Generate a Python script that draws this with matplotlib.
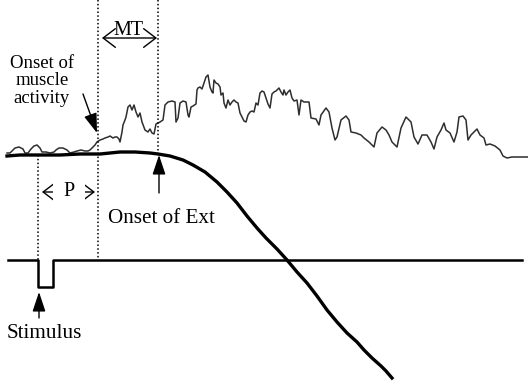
import matplotlib
matplotlib.use("Agg")
import matplotlib.pyplot as plt

plt.rcParams['font.family'] = ['Liberation Serif', 'DejaVu Serif']

# EMG trace (time, amplitude; screen-down positive)
emg_t = [7, 10, 12, 15, 19, 23, 25, 28, 31, 34, 37, 40, 42, 46, 50, 54, 56, 59, 63, 67,
         70, 74, 77, 81, 85, 88, 90, 93, 95, 97, 100, 103, 105, 108, 110, 113, 115, 117,
         119, 120, 122, 123, 125, 126, 128, 130, 132, 134, 136, 138, 140, 142, 145, 148,
         150, 152, 154, 156, 158, 160, 163, 165, 168, 172, 175, 176, 178, 180, 183, 186,
         188, 189, 191, 193, 196, 197, 198, 200, 202, 204, 206, 208, 210, 212, 213, 214,
         216, 218, 220, 221, 223, 224, 226, 228, 230, 232, 234, 236, 238, 240, 242, 244,
         246, 248, 250, 252, 254, 256, 258, 260, 262, 264, 266, 268, 270, 272, 274, 276,
         279, 281, 283, 284, 286, 288, 290, 292, 294, 297, 299, 301, 304, 309, 311, 316,
         319, 321, 326, 329, 332, 335, 337, 341, 346, 349, 351, 356, 361, 364, 369, 374,
         377, 382, 386, 389, 392, 397, 401, 406, 411, 414, 418, 422, 427, 431, 434, 437,
         441, 444, 446, 450, 454, 457, 459, 463, 466, 468, 471, 477, 480, 484, 486, 490,
         495, 500, 503, 507, 512, 520, 528]
emg_y = [153, 153, 151, 148, 147, 149, 153, 153, 149, 146, 145, 148, 152, 152, 153, 152,
         150, 148, 148, 150, 153, 152, 151, 150, 151, 151, 150, 147, 145, 142, 140, 139,
         138, 137, 136, 138, 137, 137, 139, 142, 132, 125, 120, 117, 107, 105, 110, 105,
         112, 117, 113, 122, 130, 132, 129, 133, 134, 124, 123, 122, 120, 105, 102, 101,
         102, 122, 118, 103, 101, 102, 115, 117, 107, 106, 104, 90, 88, 87, 89, 83, 77, 75,
         87, 92, 93, 80, 83, 84, 87, 95, 93, 103, 108, 100, 105, 102, 100, 102, 103, 113,
         117, 121, 122, 115, 112, 111, 112, 103, 105, 93, 91, 92, 98, 104, 108, 94, 92, 91,
         88, 92, 95, 90, 95, 92, 90, 98, 101, 100, 115, 100, 102, 102, 118, 119, 125, 115,
         108, 112, 128, 140, 137, 120, 116, 120, 132, 133, 135, 138, 142, 147, 133, 127,
         130, 135, 142, 147, 128, 117, 122, 137, 144, 135, 135, 142, 149, 137, 130, 123,
         130, 133, 142, 132, 117, 116, 120, 140, 135, 129, 135, 138, 145, 144, 146, 150,
         156, 158, 157, 157, 157]

# joint angle trace
ang_t = [7, 20, 40, 60, 80, 100, 120, 135, 150, 158, 170, 183, 193, 205, 217, 227, 237,
         247, 257, 266, 277, 287, 297, 307, 317, 327, 337, 347, 357, 364, 372, 381, 386, 392]
ang_y = [156, 155, 155, 155, 154, 154, 152, 152, 153, 154, 156, 160, 165, 172, 182, 192,
         203, 216, 228, 238, 249, 260, 272, 283, 296, 310, 322, 333, 342, 350, 358, 366,
         371, 378]

# stimulus pulse
stim_t = [8, 38, 38, 53, 53, 522]
stim_y = [260, 260, 287, 287, 260, 260]

# event markers: stimulus, muscle onset, movement onset
events = [38, 98, 158]
event_top = [155, 0, 0]
event_bottom = [260, 260, 153]

fig = plt.figure(figsize=(5.28, 3.81), dpi=100)
ax = fig.add_axes([0, 0, 1, 1])
ax.set_xlim(0, 528)
ax.set_ylim(381, 0)
ax.axis('off')

ax.plot(emg_t, emg_y, color='#2e2e2e', lw=1.1)
ax.plot(ang_t, ang_y, color='black', lw=2.4)
ax.plot(stim_t, stim_y, color='black', lw=1.8)

for x, y0, y1 in zip(events, event_top, event_bottom):
    ax.plot([x, x], [y0, y1], color='black', lw=1.1, linestyle=(0, (1, 1.5)))

interval_arrow = dict(arrowstyle='<->, head_length=0.55, head_width=0.42',
                      color='black', lw=1.0, mutation_scale=16, shrinkA=0, shrinkB=0)
onset_arrow = dict(arrowstyle='-|>, head_length=0.6, head_width=0.2',
                   color='black', lw=1.0, mutation_scale=20, shrinkA=0, shrinkB=0)

# MT interval
ax.annotate('', xy=(102, 38), xytext=(157, 38), arrowprops=interval_arrow)
ax.text(128, 35, 'MT', fontsize=14.5, ha='center', va='baseline')

# P interval
ax.annotate('', xy=(42, 192), xytext=(95, 192), arrowprops=interval_arrow)
ax.text(69, 192, 'P', fontsize=14.5, ha='center', va='center', zorder=5,
        bbox=dict(boxstyle='square,pad=0.5', fc='white', ec='none'))

# labels with arrows
ax.annotate('', xy=(97, 133), xytext=(83, 94), arrowprops=onset_arrow)
ax.text(42, 103, 'Onset of\nmuscle\nactivity', fontsize=13.5, ha='center',
        va='baseline', multialignment='center', linespacing=1.05)

ax.annotate('', xy=(159, 155), xytext=(159, 193), arrowprops=onset_arrow)
ax.text(108, 223, 'Onset of Ext', fontsize=15.2, ha='left', va='baseline')

ax.annotate('', xy=(39, 292), xytext=(39, 318), arrowprops=onset_arrow)
ax.text(7, 338, 'Stimulus', fontsize=15.2, ha='left', va='baseline')

fig.savefig('out.png', dpi=100)
